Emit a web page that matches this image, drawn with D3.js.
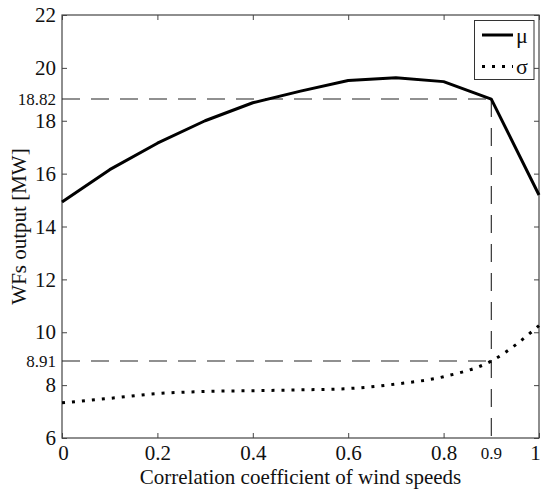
<!DOCTYPE html>
<html><head><meta charset="utf-8">
<script src="https://cdn.jsdelivr.net/npm/d3@7"></script>
<style>body{margin:0;background:#fff}svg{display:block}text{font-family:"Liberation Serif","Times New Roman",serif;fill:#111}</style>
</head><body><div id="chart"></div>
<script>
const rho = [0, 0.1, 0.2, 0.3, 0.4, 0.5, 0.6, 0.7, 0.8, 0.9, 1.0];
const muValues = [14.93, 16.15, 17.15, 18.0, 18.68, 19.12, 19.52, 19.63, 19.48, 18.82, 15.19];
const sigmaValues = [7.33, 7.5, 7.68, 7.76, 7.79, 7.82, 7.87, 8.04, 8.32, 8.91, 10.25];
const xTicks = [0, 0.2, 0.4, 0.6, 0.8, 1];
const yTicks = [6, 8, 10, 12, 14, 16, 18, 20, 22];
const markX = 0.9;
const markMu = 18.82;
const markSigma = 8.91;
const legendLabels = ["μ", "σ"];
const xTitle = "Correlation coefficient of wind speeds";
const yTitle = "WFs output [MW]";

const W = 541, H = 490;
const m = {left: 62, right: 2, top: 15, bottom: 52};
const svg = d3.select("#chart").append("svg").attr("width", W).attr("height", H);
const x = d3.scaleLinear().domain([0, 1]).range([m.left, W - m.right]);
const y = d3.scaleLinear().domain([6, 22]).range([H - m.bottom, m.top]);
const axisCol = "#444";

// frame
svg.append("rect").attr("x", x(0)).attr("y", y(22)).attr("width", x(1) - x(0)).attr("height", y(6) - y(22))
  .attr("fill", "none").attr("stroke", axisCol).attr("stroke-width", 1.2);

function styleAxis(g) {
  g.select(".domain").remove();
  g.selectAll(".tick line").attr("stroke", axisCol);
  g.selectAll(".tick text").attr("font-size", 21).attr("fill", "#111");
}
const bx = svg.append("g").attr("transform", `translate(0,${y(6)})`)
  .call(d3.axisBottom(x).tickValues(xTicks).tickSizeInner(-5).tickSizeOuter(0).tickPadding(7).tickFormat(d3.format("~g")))
  .call(styleAxis);
bx.selectAll(".tick text").filter(d => d === 1).attr("dx", -4);
bx.selectAll(".tick text").filter(d => d === 0).attr("dx", 1);
svg.append("g").attr("transform", `translate(0,${y(22)})`)
  .call(d3.axisTop(x).tickValues(xTicks).tickSizeInner(-5).tickSizeOuter(0).tickFormat(""))
  .call(styleAxis);
svg.append("g").attr("transform", `translate(${x(0)},0)`)
  .call(d3.axisLeft(y).tickValues(yTicks).tickSizeInner(-5).tickSizeOuter(0).tickPadding(6))
  .call(styleAxis);
svg.append("g").attr("transform", `translate(${x(1)},0)`)
  .call(d3.axisRight(y).tickValues(yTicks).tickSizeInner(-5).tickSizeOuter(0).tickFormat(""))
  .call(styleAxis);

// dashed reference lines
const dash = "18,11";
const ref = svg.append("g").attr("stroke", "#222").attr("stroke-width", 1.1).attr("stroke-dasharray", dash).attr("fill", "none");
ref.append("line").attr("x1", x(0)).attr("x2", x(markX)).attr("y1", y(markMu)).attr("y2", y(markMu));
ref.append("line").attr("x1", x(0)).attr("x2", x(markX)).attr("y1", y(markSigma)).attr("y2", y(markSigma));
ref.append("line").attr("x1", x(markX)).attr("x2", x(markX)).attr("y1", y(markMu)).attr("y2", y(6));

// small marker labels
svg.append("text").attr("x", x(0) - 6).attr("y", y(markMu)).attr("dy", "0.35em").attr("text-anchor", "end").attr("font-size", 17).text(markMu.toFixed(2));
svg.append("text").attr("x", x(0) - 6).attr("y", y(markSigma)).attr("dy", "0.35em").attr("text-anchor", "end").attr("font-size", 17).text(markSigma.toFixed(2));
svg.append("text").attr("x", x(markX)).attr("y", y(6) + 21).attr("text-anchor", "middle").attr("font-size", 17).text(markX);

// series
const line = d3.line().x((d, i) => x(rho[i])).y(d => y(d));
svg.append("path").datum(muValues).attr("d", line).attr("fill", "none").attr("stroke", "#000").attr("stroke-width", 3).attr("stroke-linejoin", "round");
svg.append("path").datum(sigmaValues).attr("d", line.curve(d3.curveMonotoneX)).attr("fill", "none").attr("stroke", "#000").attr("stroke-width", 3).attr("stroke-dasharray", "3,7");

// titles
svg.append("text").attr("x", (x(0) + x(1)) / 2).attr("y", 484).attr("text-anchor", "middle").attr("font-size", 21).text(xTitle);
svg.append("text").attr("transform", `translate(26,${(y(6) + y(22)) / 2}) rotate(-90)`).attr("text-anchor", "middle").attr("font-size", 21).text(yTitle);

// legend
const lg = svg.append("g");
lg.append("rect").attr("x", 474.5).attr("y", 20.5).attr("width", 59.5).attr("height", 59).attr("fill", "#fff").attr("stroke", "#333").attr("stroke-width", 1);
const dashes = [null, "3,7"];
legendLabels.forEach((lab, i) => {
  const yy = 35 + i * 31.5;
  lg.append("line").attr("x1", 482).attr("x2", 513).attr("y1", yy).attr("y2", yy).attr("stroke", "#000").attr("stroke-width", 3).attr("stroke-dasharray", dashes[i]);
  lg.append("text").attr("x", 516).attr("y", yy).attr("dy", "0.35em").attr("font-size", 22).text(lab);
});
</script></body></html>
